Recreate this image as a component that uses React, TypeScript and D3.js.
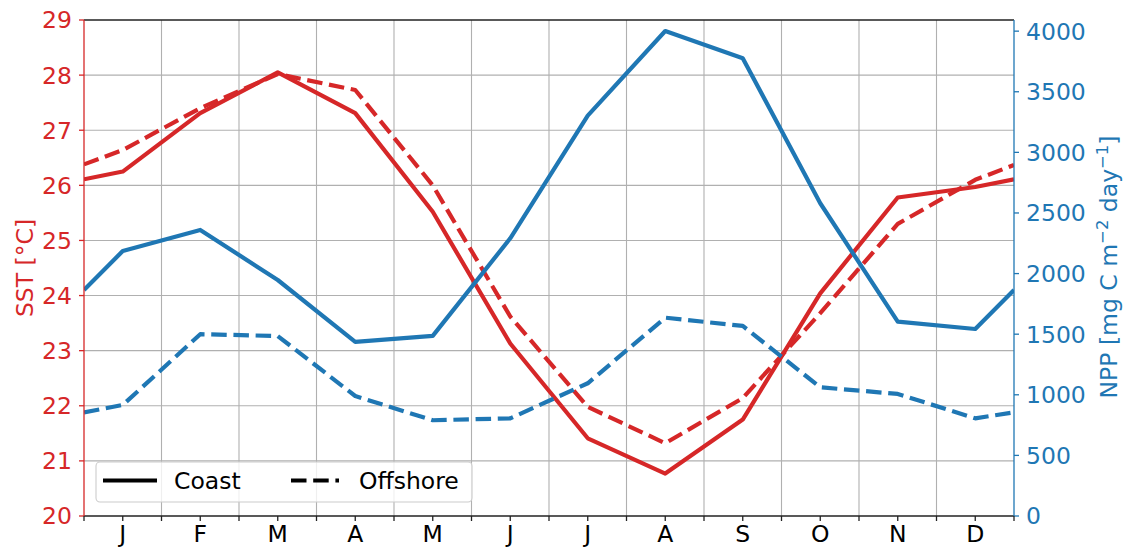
import React from "react";
import * as d3 from "d3";

const monthLabels = ["J", "F", "M", "A", "M", "J", "J", "A", "S", "O", "N", "D"];
// x positions: left edge, month centres, right edge (in month units)
const xPositions = [0, 0.5, 1.5, 2.5, 3.5, 4.5, 5.5, 6.5, 7.5, 8.5, 9.5, 10.5, 11.5, 12];

const sstCoast = [26.11, 26.25, 27.31, 28.05, 27.31, 25.52, 23.13, 21.41, 20.77, 21.75, 24.04, 25.78, 25.97, 26.11];
const sstOffshore = [26.38, 26.64, 27.4, 28.02, 27.73, 26.0, 23.62, 21.98, 21.32, 22.14, 23.68, 25.3, 26.1, 26.37];
const nppCoast = [1865, 2186, 2360, 1947, 1436, 1486, 2291, 3303, 4001, 3776, 2580, 1603, 1543, 1865];
const nppOffshore = [855, 916, 1500, 1485, 990, 790, 806, 1095, 1636, 1568, 1062, 1007, 806, 855];

const sstTicks = [20, 21, 22, 23, 24, 25, 26, 27, 28, 29];
const nppTicks = [0, 500, 1000, 1500, 2000, 2500, 3000, 3500, 4000];
const monthBounds = [0, 1, 2, 3, 4, 5, 6, 7, 8, 9, 10, 11, 12];

const RED = "#d62728";
const BLUE = "#1f77b4";
const FONT = "DejaVu Sans, sans-serif";
const FS = 23.5;

export default function App() {
  const W = 1123, H = 548;
  const L = 84, R = 1014, T = 20, B = 516;
  const x = d3.scaleLinear().domain([0, 12]).range([L, R]);
  const ySST = d3.scaleLinear().domain([20, 29]).range([B, T]);
  const yNPP = d3.scaleLinear().domain([0, 4092]).range([B, T]);

  const mk = (vals: number[], y: d3.ScaleLinear<number, number>) =>
    d3.line<number>().x((_, i) => x(xPositions[i])).y((v) => y(v))(vals) || "";

  const lw = 4.2;
  const dash = "15.5 6.7";

  return (
    <div style={{ position: "absolute", left: 0, top: 0 }}>
      <svg width={W} height={H} style={{ display: "block", fontFamily: FONT }}>
        <rect width={W} height={H} fill="white" />
        <defs>
          <clipPath id="plot">
            <rect x={L} y={T} width={R - L} height={B - T} />
          </clipPath>
        </defs>
        {/* grid */}
        {monthBounds.slice(1, -1).map((m) => (
          <line key={"gx" + m} x1={x(m)} x2={x(m)} y1={T} y2={B} stroke="#b0b0b0" strokeWidth={1.1} />
        ))}
        {sstTicks.slice(1, -1).map((t) => (
          <line key={"gy" + t} x1={L} x2={R} y1={ySST(t)} y2={ySST(t)} stroke="#b0b0b0" strokeWidth={1.1} />
        ))}
        {/* lines */}
        <g clipPath="url(#plot)" fill="none" strokeLinejoin="round">
          <path d={mk(sstCoast, ySST)} stroke={RED} strokeWidth={lw} />
          <path d={mk(sstOffshore, ySST)} stroke={RED} strokeWidth={lw} strokeDasharray={dash} />
          <path d={mk(nppCoast, yNPP)} stroke={BLUE} strokeWidth={lw} />
          <path d={mk(nppOffshore, yNPP)} stroke={BLUE} strokeWidth={lw} strokeDasharray={dash} />
        </g>
        {/* spines */}
        <line x1={L} x2={R} y1={T} y2={T} stroke="#222" strokeWidth={1.3} />
        <line x1={L} x2={R} y1={B} y2={B} stroke="#222" strokeWidth={1.3} />
        <line x1={L} x2={L} y1={T} y2={B} stroke={RED} strokeWidth={1.3} />
        <line x1={R} x2={R} y1={T} y2={B} stroke={BLUE} strokeWidth={1.3} />
        {/* left axis */}
        {sstTicks.map((t) => (
          <g key={"ls" + t}>
            <line x1={L - 5} x2={L} y1={ySST(t)} y2={ySST(t)} stroke={RED} strokeWidth={1.3} />
            <text x={L - 12} y={ySST(t)} dy="0.36em" textAnchor="end" fill={RED} fontSize={FS}>
              {t}
            </text>
          </g>
        ))}
        {/* right axis */}
        {nppTicks.map((t) => (
          <g key={"rs" + t}>
            <line x1={R} x2={R + 5} y1={yNPP(t)} y2={yNPP(t)} stroke={BLUE} strokeWidth={1.3} />
            <text x={R + 12} y={yNPP(t)} dy="0.36em" textAnchor="start" fill={BLUE} fontSize={FS}>
              {t}
            </text>
          </g>
        ))}
        {/* bottom axis */}
        {monthBounds.map((m) => (
          <line key={"mt" + m} x1={x(m)} x2={x(m)} y1={B} y2={B + 5} stroke="#222" strokeWidth={1.3} />
        ))}
        {monthLabels.map((lab, i) => (
          <g key={"xl" + i}>
            <line x1={x(i + 0.5)} x2={x(i + 0.5)} y1={B} y2={B + 5} stroke="#222" strokeWidth={1.3} />
            <text x={x(i + 0.5)} y={541.5} textAnchor="middle" fill="#000" fontSize={FS}>
              {lab}
            </text>
          </g>
        ))}
        {/* axis labels */}
        <text transform={`translate(33,${(T + B) / 2}) rotate(-90)`} textAnchor="middle" fill={RED} fontSize={FS}>
          SST [°C]
        </text>
        <text transform={`translate(1117,${(T + B) / 2 - 1}) rotate(-90)`} textAnchor="middle" fill={BLUE} fontSize={FS}>
          NPP [mg C m
          <tspan fontSize={FS * 0.7} dy={-9}>−2</tspan>
          <tspan dy={9}> day</tspan>
          <tspan fontSize={FS * 0.7} dy={-9}>−1</tspan>
          <tspan dy={9}>]</tspan>
        </text>
        {/* legend */}
        <g>
          <rect x={96} y={462} width={376} height={40} rx={4} fill="white" fillOpacity={0.8} stroke="#cccccc" strokeWidth={1.1} />
          <line x1={103} x2={157} y1={480.5} y2={480.5} stroke="#000" strokeWidth={lw} />
          <text x={174} y={489} fill="#000" fontSize={FS}>Coast</text>
          <line x1={291} x2={339} y1={480.5} y2={480.5} stroke="#000" strokeWidth={lw} strokeDasharray={dash} />
          <text x={359} y={489} fill="#000" fontSize={FS}>Offshore</text>
        </g>
      </svg>
    </div>
  );
}
